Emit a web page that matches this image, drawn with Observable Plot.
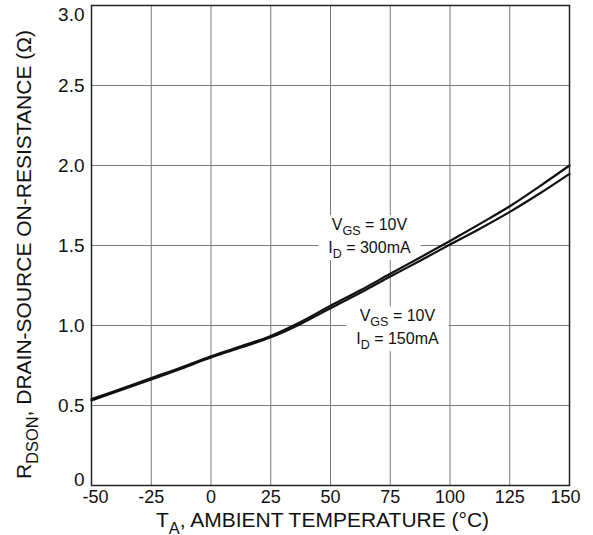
<!DOCTYPE html>
<html><head><meta charset="utf-8">
<script src="https://cdn.jsdelivr.net/npm/d3@7"></script>
<script src="https://cdn.jsdelivr.net/npm/@observablehq/plot@0.6"></script>
<style>
body{margin:0;background:#fff}
#chart svg{font-family:"Liberation Sans",Arial,Helvetica,sans-serif}
</style>
</head><body><div id="chart"></div>
<script>
const temps = [-50,-37.5,-25,-12.5,0,12.5,25,37.5,50,62.5,75,87.5,100,112.5,125,137.5,150];
const r300 = [0.54,0.605,0.672,0.738,0.808,0.87,0.935,1.022,1.123,1.22,1.323,1.425,1.528,1.635,1.745,1.87,2.0];
const r150 = [0.532,0.597,0.663,0.73,0.8,0.862,0.926,1.01,1.108,1.205,1.306,1.405,1.506,1.605,1.71,1.825,1.948];
const xTicks = [-50,-25,0,25,50,75,100,125,150];
const xTickLabels = ["-50","-25","0","25","50","75","100","125","150"];
const yTicks = [0,0.5,1,1.5,2,2.5,3];
const yTickLabels = ["0","0.5","1.0","1.5","2.0","2.5","3.0"];
const annoText = ["V_GS = 10V\nI_D = 300mA", "V_GS = 10V\nI_D = 150mA"];
const annoX = [66.3, 78.0];
const annoY = [1.569, 1.0];
const xTitle = "T_A, AMBIENT TEMPERATURE (°C)";
const yTitle = "R_DSON, DRAIN-SOURCE ON-RESISTANCE (Ω)";

const s300 = temps.map((t,i)=>({t, r:r300[i]}));
const s150 = temps.map((t,i)=>({t, r:r150[i]}));
const annos = annoText.map((text,i)=>({text, x:annoX[i], y:annoY[i]}));
const FX = 18, FY = 19, FT = 21;
const xFmt = d => xTickLabels[xTicks.indexOf(d)];
const yFmt = d => yTickLabels[yTicks.indexOf(d)];
const mid = a => a.slice(1, -1);

const plot = Plot.plot({
  width: 593, height: 535,
  marginLeft: 91, marginRight: 24, marginTop: 5, marginBottom: 50,
  style: {fontSize: FX + "px", fontFamily: "'Liberation Sans', Arial, sans-serif", color: "#111", background: "#fff", overflow: "visible"},
  x: {domain: [-50,150]},
  y: {domain: [0,3]},
  marks: [
    Plot.gridX(xTicks, {stroke: "#7a7a7a", strokeOpacity: 1, strokeWidth: 1}),
    Plot.gridY(yTicks, {stroke: "#7a7a7a", strokeOpacity: 1, strokeWidth: 1}),
    Plot.axisX(mid(xTicks), {tickSize: 0, tickPadding: 5, fontSize: FX, tickFormat: xFmt, label: null}),
    Plot.axisX([xTicks[0]], {tickSize: 0, tickPadding: 5, fontSize: FX, tickFormat: xFmt, dx: 4, label: null}),
    Plot.axisX([xTicks[xTicks.length-1]], {tickSize: 0, tickPadding: 5, fontSize: FX, tickFormat: xFmt, dx: -4, label: null}),
    Plot.axisY(mid(yTicks), {tickSize: 0, tickPadding: 7, fontSize: FY, tickFormat: yFmt, label: null}),
    Plot.axisY([yTicks[0]], {tickSize: 0, tickPadding: 7, fontSize: FY, tickFormat: yFmt, dy: -6, label: null}),
    Plot.axisY([yTicks[yTicks.length-1]], {tickSize: 0, tickPadding: 7, fontSize: FY, tickFormat: yFmt, dy: 9, label: null}),
    Plot.text([xTitle], {text: d => d, frameAnchor: "bottom", dy: 35, dx: -8, fontSize: FT, lineAnchor: "middle", textAnchor: "middle", fill: "#111"}),
    Plot.text([yTitle], {text: d => d, frameAnchor: "left", rotate: -90, dx: -67, dy: 9, fontSize: FT, lineAnchor: "middle", textAnchor: "middle", fill: "#111"}),
    Plot.text(annos, {x: "x", y: "y", text: "text", fontSize: 16, lineHeight: 1.42, fill: "#111", lineAnchor: "middle"}),
    Plot.line(s150, {x: "t", y: "r", stroke: "#111", strokeWidth: 2.2, curve: "catmull-rom"}),
    Plot.line(s300, {x: "t", y: "r", stroke: "#111", strokeWidth: 2.2, curve: "catmull-rom"}),
    Plot.frame({stroke: "#222", strokeWidth: 1.5})
  ]
});
document.getElementById("chart").appendChild(plot);

const svgNS = "http://www.w3.org/2000/svg";
const textGroups = plot.querySelectorAll('g[aria-label="text"]');
const annoGroup = textGroups[textGroups.length - 1];
annoGroup.querySelectorAll("text").forEach(t => {
  const b = t.getBBox();
  const r = document.createElementNS(svgNS, "rect");
  r.setAttribute("x", b.x - 4); r.setAttribute("y", b.y - 1);
  r.setAttribute("width", b.width + 8); r.setAttribute("height", b.height + 4);
  r.setAttribute("fill", "#fff");
  if (t.getAttribute("transform")) r.setAttribute("transform", t.getAttribute("transform"));
  t.parentNode.insertBefore(r, t);
});

function subscriptify(el) {
  const s = el.textContent;
  if (!s.includes("_")) return;
  const fs = parseFloat(getComputedStyle(el).fontSize) || 16;
  const d = (fs * 0.3).toFixed(1);
  const re = /_([^ ,]+)/g;
  el.textContent = "";
  let last = 0, m, pending = false;
  while ((m = re.exec(s))) {
    const p = document.createElementNS(svgNS, "tspan");
    p.textContent = s.slice(last, m.index);
    if (pending) p.setAttribute("dy", -d);
    el.appendChild(p);
    const sub = document.createElementNS(svgNS, "tspan");
    sub.textContent = m[1];
    sub.setAttribute("dy", d);
    sub.setAttribute("font-size", (fs * 0.78).toFixed(1));
    el.appendChild(sub);
    pending = true;
    last = re.lastIndex;
  }
  const rest = document.createElementNS(svgNS, "tspan");
  rest.textContent = s.slice(last);
  if (pending) rest.setAttribute("dy", -d);
  el.appendChild(rest);
}
Array.from(plot.querySelectorAll("text, tspan")).filter(e => e.children.length === 0 && e.textContent.includes("_")).forEach(subscriptify);
</script>
</body></html>
